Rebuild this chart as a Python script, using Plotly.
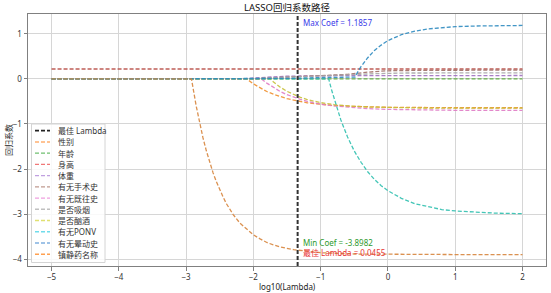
import math
import plotly.graph_objects as go

# ---------------- data ----------------
feature_names = ["性别", "年龄", "身高", "体重", "有无手术史", "有无既往史",
                 "是否吸烟", "是否酗酒", "有无PONV", "有无晕动史", "镇静药名称"]

sex_x = [-5, -2.1, -2.0, -1.9, -1.8, -1.7, -1.6, -1.5, -1.4, -1.2, -1.0, -0.8, -0.5, 0, 1, 2]
sex_y = [0, 0, -0.11, -0.20, -0.28, -0.34, -0.395, -0.44, -0.47, -0.53, -0.563, -0.59, -0.61, -0.63, -0.64, -0.64]

age_x = [-5, 2]
age_y = [0, 0]

height_x = [-5, 2]
height_y = [0.22, 0.22]

weight_x = [-5, -2.15, -2.0, -1.8, -1.5, -1.0, 0, 2]
weight_y = [0, 0, 0.02, 0.04, 0.06, 0.07, 0.073, 0.075]

surgery_x = [-5, -2.0, -1.5, -1.0, -0.6, -0.3, 0, 0.5, 1, 2]
surgery_y = [0, 0, 0.04, 0.065, 0.10, 0.15, 0.18, 0.19, 0.195, 0.195]

history_x = [-5, -1.88, -1.8, -1.7, -1.6, -1.5, -1.4, -1.3, -1.2, -1.0, -0.8, -0.6, -0.3, 0, 0.5, 1, 2]
history_y = [0, 0, -0.094, -0.195, -0.28, -0.35, -0.41, -0.456, -0.50, -0.56, -0.60, -0.63, -0.66, -0.677, -0.69, -0.697, -0.70]

smoke_x = [-5, -2.05, -1.8, -1.5, -1.0, -0.5, -0.2, 0.2, 1, 2]
smoke_y = [0, 0, 0.02, 0.04, 0.06, 0.09, 0.115, 0.13, 0.135, 0.135]

drink_x = [-5, -1.75, -1.7, -1.6, -1.5, -1.4, -1.3, -1.2, -1.1, -1.0, -0.8, -0.6, -0.3, 0, 0.5, 1, 2]
drink_y = [0, 0, -0.068, -0.184, -0.277, -0.35, -0.41, -0.458, -0.497, -0.527, -0.571, -0.60, -0.624, -0.637, -0.646, -0.649, -0.65]

ponv_x = [-5, -0.88, -0.84, -0.8, -0.7, -0.6, -0.5, -0.4, -0.3, -0.2, -0.1, 0, 0.2, 0.4, 0.6, 0.8, 1.0, 1.3, 1.6, 2.0]
ponv_y = [0, 0, -0.23, -0.44, -0.91, -1.29, -1.60, -1.85, -2.06, -2.23, -2.37, -2.48, -2.65, -2.77, -2.84, -2.90, -2.93, -2.96, -2.98, -2.99]

motion_x = [-5, -2.0, -1.5, -1.0, -0.49, -0.45, -0.4, -0.3, -0.2, -0.1, 0, 0.2, 0.4, 0.6, 0.8, 1.0, 1.3, 1.6, 2.0]
motion_y = [0, 0, 0.01, 0.03, 0.04, 0.15, 0.27, 0.47, 0.63, 0.75, 0.85, 0.98, 1.06, 1.11, 1.14, 1.16, 1.173, 1.18, 1.1857]

sedative_x = [-5, -2.92, -2.85, -2.8, -2.75, -2.7, -2.65, -2.6, -2.55, -2.5, -2.45, -2.4, -2.3, -2.2, -2.1,
              -2.0, -1.9, -1.8, -1.7, -1.6, -1.4, -1.2, -1.0, -0.5, 0, 1, 2]
sedative_y = [0, 0, -0.60, -0.97, -1.30, -1.59, -1.85, -2.08, -2.28, -2.46, -2.62, -2.77, -3.01, -3.20, -3.34,
              -3.46, -3.55, -3.63, -3.685, -3.73, -3.79, -3.83, -3.857, -3.886, -3.895, -3.898, -3.8982]

best_lambda = 0.0455
max_coef = 1.1857
min_coef = -3.8982

x_ticks = [-5, -4, -3, -2, -1, 0, 1, 2]
y_ticks = [-4, -3, -2, -1, 0, 1]

series_x = [sex_x, age_x, height_x, weight_x, surgery_x, history_x, smoke_x, drink_x, ponv_x, motion_x, sedative_x]
series_y = [sex_y, age_y, height_y, weight_y, surgery_y, history_y, smoke_y, drink_y, ponv_y, motion_y, sedative_y]

# ---------------- styles ----------------
line_colors = ["#f0902e", "#58a83a", "#b84c46", "#a070c0", "#a06e66", "#e07cc6",
               "#a8a8a8", "#c8c03a", "#30c0b0", "#2e8bc0", "#d8863e"]
swatch_colors = ["#ffb070", "#70c070", "#f07878", "#c0a0e0", "#c09a90", "#f0a0e0",
                 "#c0c0c0", "#e0e070", "#70dceb", "#80b0e0", "#ffa050"]

FONT = "Noto Sans, Noto Sans CJK SC, sans-serif"
W, H = 551, 293
L, R, T, B = 28, 5, 14, 27
PW, PH = W - L - R, H - T - B

def px2paper_x(px):
    return (px - L) / PW

def px2paper_y(py):
    return (H - B - py) / PH

fig = go.Figure()
for name, xs, ys, col in zip(feature_names, series_x, series_y, line_colors):
    fig.add_trace(go.Scatter(x=xs, y=ys, mode="lines", name=name, showlegend=False,
                             line=dict(color=col, width=1.3, dash="4px,2px"),
                             opacity=0.9, hoverinfo="skip"))

log_best = math.log10(best_lambda)

shapes = []
# best lambda vertical line
shapes.append(dict(type="line", xref="x", yref="paper", x0=log_best, x1=log_best, y0=0, y1=1,
                   line=dict(color="#333333", width=2, dash="4px,2px"), layer="above"))

# custom legend box
bx0, bx1, by0, by1 = 31.5, 105, 124, 262.5
shapes.append(dict(type="rect", xref="paper", yref="paper",
                   x0=px2paper_x(bx0), x1=px2paper_x(bx1), y0=px2paper_y(by1), y1=px2paper_y(by0),
                   line=dict(color="#d4d4d4", width=1), fillcolor="rgba(255,255,255,0.85)", layer="above"))

annotations = []
legend_names = ["最佳 Lambda"] + feature_names
legend_cols = ["#222222"] + swatch_colors
for i, (nm, col) in enumerate(zip(legend_names, legend_cols)):
    yy = 130.7 + 11.23 * i
    shapes.append(dict(type="line", xref="paper", yref="paper",
                       x0=px2paper_x(35), x1=px2paper_x(50),
                       y0=px2paper_y(yy), y1=px2paper_y(yy),
                       line=dict(color=col, width=1.8 if i == 0 else 1.4, dash="4px,2px"), layer="above"))
    annotations.append(dict(text=nm, xref="paper", yref="paper", x=px2paper_x(56), y=px2paper_y(yy),
                            xanchor="left", yanchor="middle", showarrow=False,
                            font=dict(family=FONT, size=8, color="#333333")))

# coefficient annotations
annotations.append(dict(text=f"Max Coef = {max_coef:.4f}", x=log_best + 0.05, y=max_coef, xref="x", yref="y",
                        xanchor="left", yanchor="middle", yshift=3, showarrow=False,
                        font=dict(family=FONT, size=8, color="#3a3ae8")))
annotations.append(dict(text=f"Min Coef = {min_coef:.4f}", x=log_best + 0.05, y=min_coef, xref="x", yref="y",
                        xanchor="left", yanchor="middle", yshift=12.5, showarrow=False,
                        font=dict(family=FONT, size=8, color="#2e9a2e")))
annotations.append(dict(text=f"最佳 Lambda = {best_lambda:.4f}", x=log_best + 0.05, y=min_coef, xref="x", yref="y",
                        xanchor="left", yanchor="middle", yshift=2.5, showarrow=False,
                        font=dict(family=FONT, size=8, color="#e83434")))

# axis titles
annotations.append(dict(text="log10(Lambda)", xref="paper", yref="paper", x=0.5, y=px2paper_y(286),
                        xanchor="center", yanchor="middle", showarrow=False,
                        font=dict(family=FONT, size=8, color="#222222")))
annotations.append(dict(text="回归系数", xref="paper", yref="paper", x=px2paper_x(8), y=0.5,
                        xanchor="center", yanchor="middle", showarrow=False, textangle=-90,
                        font=dict(family=FONT, size=8, color="#222222")))

axis_common = dict(showgrid=True, gridcolor="#d6d6d6", gridwidth=1.2, zeroline=False,
                   showline=True, linecolor="#808080", linewidth=1, mirror=True,
                   ticks="outside", ticklen=3.5, tickcolor="#808080",
                   tickfont=dict(family=FONT, size=8, color="#333333"))

fig.update_layout(
    width=W, height=H, margin=dict(l=L, r=R, t=T, b=B),
    paper_bgcolor="white", plot_bgcolor="white",
    title=dict(text="LASSO回归系数路径", x=(L + px2paper_x(287) * PW) / W, xref="container",
               y=1 - 7.5 / H, yref="container", xanchor="center", yanchor="middle",
               font=dict(family=FONT, size=9.5, color="#111111")),
    xaxis=dict(range=[-5.35, 2.35], tickvals=x_ticks, **axis_common),
    yaxis=dict(range=[-4.152, 1.44], tickvals=y_ticks, **axis_common),
    shapes=shapes, annotations=annotations, showlegend=False,
)

fig.write_html("out.html", config={"displayModeBar": False},
               post_script="document.body.style.margin='0';document.body.style.overflow='hidden';")
